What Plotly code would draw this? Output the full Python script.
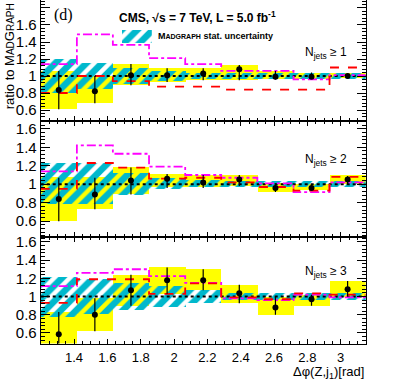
import numpy as np
import plotly.graph_objects as go

# ── Data ──────────────────────────────────────────────────────────────────────
bin_edges = [1.2, 1.417, 1.633, 1.85, 2.067, 2.283, 2.5, 2.717, 2.933, 3.15]

# Njets >= 1
p1_data = [0.835, 0.82, 1.01, 1.01, 1.03, 1.08, 0.99, 0.99, 1.0]
p1_lo = [0.61, 0.68, 0.89, 0.93, 0.95, 0.95, 0.96, 0.97, 0.98]
p1_hi = [1.06, 1.0, 1.14, 1.09, 1.09, 1.13, 1.06, 1.04, 1.03]
p1_mgstat = [0.20, 0.15, 0.09, 0.06, 0.03, 0.03, 0.03, 0.03, 0.03]
p1_magenta = [1.14, 1.49, 1.365, 1.21, 1.14, 1.06, 1.06, 0.96, 1.01]
p1_red = [0.80, 1.0, 0.94, 0.875, 0.875, 0.84, 0.84, 0.84, 1.10]

# Njets >= 2
p2_data = [0.84, 0.89, 1.04, 1.06, 1.02, 1.05, 0.96, 0.96, 1.05]
p2_lo = [0.60, 0.73, 0.89, 0.96, 0.96, 0.98, 0.915, 0.93, 1.0]
p2_hi = [1.07, 1.07, 1.18, 1.11, 1.10, 1.10, 1.01, 0.995, 1.09]
p2_mgstat = [0.22, 0.22, 0.12, 0.06, 0.04, 0.03, 0.03, 0.03, 0.03]
p2_magenta = [1.14, 1.42, 1.33, 1.19, 1.10, 1.07, 1.01, 0.915, 1.02]
p2_red = [0.95, 1.23, 1.18, 1.06, 1.07, 1.02, 0.97, 0.93, 1.08]

# Njets >= 3
p3_data = [0.585, 0.80, 1.07, 1.18, 1.18, 1.035, 0.88, 0.97, 1.08]
p3_lo = [0.40, 0.62, 0.90, 1.03, 1.07, 0.925, 0.80, 0.90, 1.0]
p3_hi = [0.83, 0.98, 1.24, 1.32, 1.30, 1.13, 1.0, 1.02, 1.17]
p3_mgstat = [0.22, 0.19, 0.15, 0.12, 0.07, 0.04, 0.04, 0.04, 0.04]
p3_magenta = [1.115, 1.26, 1.30, 1.225, 1.15, 0.98, 0.96, 1.02, 0.99]
p3_red = [0.93, 1.19, 1.19, 1.03, 1.145, 0.99, 0.97, 1.035, 1.02]

panels = [
    (p1_data, p1_lo, p1_hi, p1_mgstat, p1_magenta, p1_red, '1'),
    (p2_data, p2_lo, p2_hi, p2_mgstat, p2_magenta, p2_red, '2'),
    (p3_data, p3_lo, p3_hi, p3_mgstat, p3_magenta, p3_red, '3'),
]

x_range = [1.2, 3.15]
y_ranges = [[0.465, 1.894], [0.429, 1.679], [0.484, 1.654]]
y_domains = [[0.6828, 1.0], [0.3812, 0.6828], [0.1031, 0.3812]]

edges = np.array(bin_edges)
centers = (edges[:-1] + edges[1:]) / 2
widths = np.diff(edges)

FONT = 'Liberation Sans, Arial, sans-serif'
CYAN = '#00b8cc'
HATCH = dict(shape='/', fgcolor=CYAN, fgopacity=1, size=11, solidity=0.6,
             bgcolor='rgba(0,0,0,0)')

fig = go.Figure()

for i, (dat, lo, hi, mg, mag, red, nj) in enumerate(panels):
    xa = 'x' if i == 0 else f'x{i+1}'
    ya = 'y' if i == 0 else f'y{i+1}'
    dat, lo, hi, mg = map(np.array, (dat, lo, hi, mg))

    # yellow band
    fig.add_trace(go.Bar(x=centers, y=hi - lo, base=lo, width=widths,
                         marker=dict(color='#ffff00', line_width=0),
                         xaxis=xa, yaxis=ya, showlegend=False))
    # MadGraph stat. uncertainty (hatched)
    fig.add_trace(go.Bar(x=centers, y=2 * mg, base=1 - mg, width=widths,
                         marker=dict(color=CYAN, line_width=0, opacity=1, pattern=HATCH),
                         xaxis=xa, yaxis=ya, showlegend=False))
    # unity line
    fig.add_trace(go.Scatter(x=x_range, y=[1, 1], mode='lines',
                             line=dict(color='black', dash='dot', width=2),
                             xaxis=xa, yaxis=ya, showlegend=False))
    # step curves
    fig.add_trace(go.Scatter(x=edges, y=list(mag) + [mag[-1]], mode='lines',
                             line=dict(color='#ff00ff', dash='dashdot', width=1.8, shape='hv'),
                             xaxis=xa, yaxis=ya, showlegend=False))
    fig.add_trace(go.Scatter(x=edges, y=list(red) + [red[-1]], mode='lines',
                             line=dict(color='#ff0000', dash='dash', width=1.8, shape='hv'),
                             xaxis=xa, yaxis=ya, showlegend=False))
    # data points
    fig.add_trace(go.Scatter(x=centers, y=dat, mode='markers',
                             marker=dict(color='black', size=6),
                             error_y=dict(type='data', symmetric=False, array=hi - dat,
                                          arrayminus=dat - lo, color='black',
                                          thickness=1.2, width=0),
                             xaxis=xa, yaxis=ya, showlegend=False))

    axis_common = dict(showline=True, linecolor='black', linewidth=1, automargin=False,
                       ticks='inside', tickcolor='black', showgrid=False, zeroline=False)
    fig.update_layout({
        ('xaxis' if i == 0 else f'xaxis{i+1}'): dict(
            axis_common, domain=[0.1, 0.8985], range=x_range, anchor=ya,
            mirror='ticks' if i > 0 else False, tickvals=[1.4, 1.6, 1.8, 2, 2.2, 2.4, 2.6, 2.8, 3],
            ticklen=5,
            minor=dict(dtick=0.05, tick0=1.2, ticklen=3, ticks='inside', tickcolor='black'),
            showticklabels=(i == 2), tickfont=dict(family=FONT, size=13, color='black'),
            ticklabelstandoff=2),
        ('yaxis' if i == 0 else f'yaxis{i+1}'): dict(
            axis_common, domain=y_domains[i], range=y_ranges[i], anchor=xa,
            mirror='ticks', dtick=0.2, tick0=0, ticklen=9,
            minor=dict(dtick=0.04, ticklen=4, ticks='inside', tickcolor='black'),
            tickfont=dict(family=FONT, size=15, color='black'),
            tickformat='~g'),
    })

    ny = [0.862, 0.582, 0.289][i]
    fig.add_annotation(xref='paper', yref='paper', x=0.802, y=ny, showarrow=False,
                       xanchor='center', yanchor='middle',
                       text=f'N<sub>jets</sub> ≥ {nj}',
                       font=dict(family=FONT, size=12, color='black'))

# legend swatch for the hatched MadGraph band
fig.add_trace(go.Bar(x=[0.5], y=[1], base=[0], width=[1],
                     marker=dict(color=CYAN, line_width=0, opacity=1, pattern=HATCH),
                     xaxis='x4', yaxis='y4', showlegend=False))
fig.update_layout(
    xaxis4=dict(domain=[0.299, 0.373], range=[0, 1], visible=False, anchor='y4'),
    yaxis4=dict(domain=[0.888, 0.922], range=[0, 1], visible=False, anchor='x4'),
)

fig.add_annotation(xref='paper', yref='paper', x=0.384, y=0.905, showarrow=False,
                   xanchor='left', yanchor='middle',
                   text='<b>M<span style="font-size:7px">ADGRAPH</span> stat. uncertainty</b>',
                   font=dict(family=FONT, size=9, color='black'))
fig.add_annotation(xref='paper', yref='paper', x=0.287, y=0.955, showarrow=False,
                   xanchor='left', yanchor='middle',
                   text='<b>CMS, √s = 7 TeV, L = 5.0 fb<sup>-1</sup></b>',
                   font=dict(family=FONT, size=12, color='black'))
fig.add_annotation(xref='paper', yref='paper', x=0.157, y=0.96, showarrow=False,
                   xanchor='center', yanchor='middle', text='(d)',
                   font=dict(family='Liberation Serif, Times New Roman, serif', size=16, color='black'))
fig.add_annotation(xref='paper', yref='paper', x=0.022, y=0.853, showarrow=False,
                   textangle=-90, xanchor='center', yanchor='middle',
                   text='ratio to M<span style="font-size:10px">AD</span>G<span style="font-size:10px">RAPH</span>',
                   font=dict(family=FONT, size=13, color='black'))
fig.add_annotation(xref='paper', yref='paper', x=0.8985, y=0.0, showarrow=False,
                   xanchor='right', yanchor='bottom',
                   text='Δφ(Z,j<sub>1</sub>)[rad]',
                   font=dict(family=FONT, size=13, color='black'))

fig.update_layout(width=407, height=383, margin=dict(l=0, r=0, t=0, b=0),
                  barmode='overlay', bargap=0, plot_bgcolor='white', paper_bgcolor='white')

# the page body has a default 8px margin; drop it so the figure sits at the corner
fig.write_html("out.html", config={'displayModeBar': False},
               post_script="document.body.style.margin='0px';")
